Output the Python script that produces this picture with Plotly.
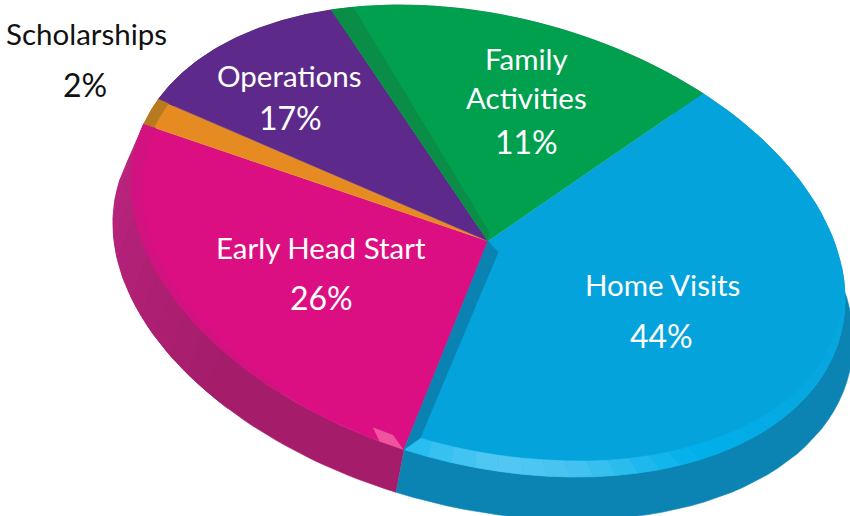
import numpy as np
import plotly.graph_objects as go

# Slices clockwise, starting from the upper right edge of Home Visits.
# Drawn shares are read from the slice sizes in the picture, which differ from
# the printed labels: the Family Activities slice is visibly larger than Operations.
categories = ["Home Visits", "Early Head Start", "Scholarships", "Operations", "Family Activities"]
drawn_share = [43.5, 25.5, 2, 11.5, 17.5]
top_colors = ["#05A3DB", "#DC0F82", "#E58B22", "#5D2A8C", "#00A04F"]
wall_colors = ["#0B84B4", "#A51C6B", "#A76E20", "#43205F", "#07763C"]

label_lines = ["Scholarships", "2%", "Operations", "17%", "Family", "Activities", "11%",
               "Early Head Start", "26%", "Home Visits", "44%"]
label_x = [86, 85, 289, 290, 526, 526, 526, 321, 321, 662, 661]
label_y = [33, 84, 75, 117, 58, 97, 141, 247, 297, 284, 335]
label_size = [29.5, 32, 29.5, 32, 29.5, 29.5, 32, 29.5, 32, 29.5, 32]
label_color = ["#111111", "#111111"] + ["#FFFFFF"] * 9

START = -53.0
TOP = dict(cx=488.0, cy=241.0, X=357.0, Y=236.0, d=14.3)
BASE = dict(cx=483.0, cy=282.0, X=370.0, Y=238.0, d=14.3)


def pt(t, s=1.0, e=TOP):
    t = np.radians(np.asarray(t, dtype=float))
    s = np.asarray(s, dtype=float)
    d = np.radians(e["d"])
    return e["cx"] + s * e["X"] * np.cos(t), e["cy"] + s * e["Y"] * np.sin(t + d)


def poly(fig, xs, ys, color):
    fig.add_trace(go.Scatter(x=list(xs), y=list(ys), mode="lines", fill="toself", fillcolor=color,
                             line=dict(color=color, width=0.6), hoverinfo="skip", showlegend=False))


def wall(fig, a, b, color):
    ts = np.linspace(a, b, 60)
    x1, y1 = pt(ts)
    x2, y2 = pt(ts[::-1], e=BASE)
    poly(fig, np.r_[x1, x2], np.r_[y1, y2], color)


def strip(fig, a, b, s_in_a, s_in_b, color):
    ts = np.linspace(a, b, 12)
    x1, y1 = pt(ts)
    x2, y2 = pt(ts[::-1], np.linspace(s_in_b, s_in_a, 12))
    poly(fig, np.r_[x1, x2], np.r_[y1, y2], color)


def mix(ts, t_stops, rgb_stops):
    return ["#%02X%02X%02X" % tuple(int(round(np.interp(t, t_stops, [c[i] for c in rgb_stops]))) for i in range(3))
            for t in ts]


edges = START + np.r_[0, np.cumsum(drawn_share)] * 3.6
fig = go.Figure()

# outer walls
for i in range(len(categories)):
    wall(fig, edges[i], edges[i + 1], wall_colors[i])
seg = np.linspace(edges[1] + 30, edges[2], 14)
cols = mix(seg, [edges[1] + 30, edges[2]], [(165, 28, 107), (190, 38, 130)])
for k in range(len(seg) - 1):
    wall(fig, seg[k], seg[k + 1], cols[k])

# flat tops
for i in range(len(categories)):
    ts = np.linspace(edges[i], edges[i + 1], 80)
    x, y = pt(ts)
    poly(fig, np.r_[TOP["cx"], x], np.r_[TOP["cy"], y], top_colors[i])

# light rim along the front of the blue slice
rim_t = np.linspace(edges[1], -8, 30)
rim_in = np.interp(rim_t, [-8, 20, 50, 80, 104], [1.0, 0.975, 0.945, 0.93, 0.93])
rim_cols = mix(rim_t, [-8, 30, 55, 78, 90, 104],
               [(5, 163, 219), (6, 168, 226), (0, 176, 236), (70, 195, 240), (85, 200, 243), (40, 190, 240)])
for k in range(len(rim_t) - 1):
    strip(fig, rim_t[k], rim_t[k + 1], rim_in[k], rim_in[k + 1], rim_cols[k])

# dark bevel on the blue slice's lower radial edge
bx, by = pt([edges[1], edges[1] - 1.8, 55], [1.0, 0.93, 0.05])
poly(fig, [TOP["cx"], bx[0], bx[1], bx[2]], [TOP["cy"], by[0], by[1], by[2]], "#0B83B2")

# pink rim and highlight
strip(fig, edges[1] + 22, edges[2], 0.985, 0.965, "#D21280")
hx, hy = pt(edges[1] + np.array([6.1, 2.6, 0.2, 4.1]), [0.955, 0.955, 1.0, 1.0])
poly(fig, hx, hy, "#EF559E")

# dark green band beside the purple slice
gx, gy = pt([edges[4], edges[4] + 3.8, edges[4] + 30], [1.0, 1.0, 0.04])
poly(fig, [TOP["cx"], gx[0], gx[1], gx[2]], [TOP["cy"], gy[0], gy[1], gy[2]], "#0A8D47")

# brown tip of the orange slice
strip(fig, edges[2], edges[3], 0.97, 0.97, "#B87A20")

annotations = [dict(x=x, y=y, xref="x", yref="y", text=t, showarrow=False, xanchor="center", yanchor="middle",
                    font=dict(family="Lato, Carlito, sans-serif", size=s, color=c))
               for t, x, y, s, c in zip(label_lines, label_x, label_y, label_size, label_color)]

fig.update_layout(width=850, height=516, margin=dict(l=0, r=0, t=0, b=0), paper_bgcolor="white",
                  plot_bgcolor="white", showlegend=False, annotations=annotations,
                  xaxis=dict(range=[0, 850], visible=False, fixedrange=True),
                  yaxis=dict(range=[516, 0], visible=False, fixedrange=True))
fig.write_html("out.html", config=dict(displayModeBar=False),
               post_script="document.body.style.margin='0';document.documentElement.style.overflow='hidden';")
